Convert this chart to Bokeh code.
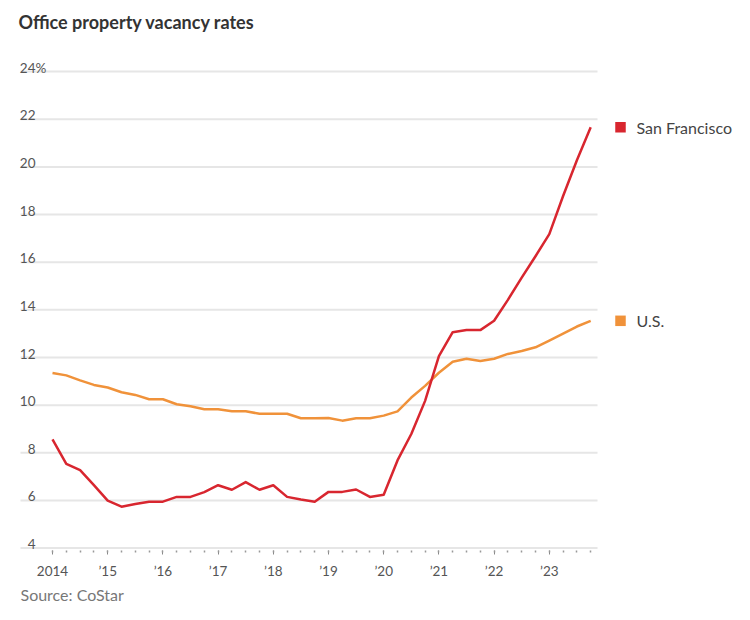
from bokeh.plotting import figure
from bokeh.models import FixedTicker, Range1d, Title
from bokeh.core.properties import value
from bokeh.embed import file_html
from bokeh.resources import INLINE

# ---------------- data ----------------
quarters = [
    "2014Q1", "2014Q2", "2014Q3", "2014Q4", "2015Q1", "2015Q2", "2015Q3", "2015Q4",
    "2016Q1", "2016Q2", "2016Q3", "2016Q4", "2017Q1", "2017Q2", "2017Q3", "2017Q4",
    "2018Q1", "2018Q2", "2018Q3", "2018Q4", "2019Q1", "2019Q2", "2019Q3", "2019Q4",
    "2020Q1", "2020Q2", "2020Q3", "2020Q4", "2021Q1", "2021Q2", "2021Q3", "2021Q4",
    "2022Q1", "2022Q2", "2022Q3", "2022Q4", "2023Q1", "2023Q2", "2023Q3", "2023Q4",
]
san_francisco = [
    8.56, 7.54, 7.27, 6.64, 5.99, 5.74, 5.85, 5.95,
    5.95, 6.15, 6.15, 6.35, 6.64, 6.45, 6.77, 6.45,
    6.64, 6.15, 6.04, 5.95, 6.36, 6.36, 6.46, 6.15,
    6.24, 7.68, 8.79, 10.18, 12.06, 13.06, 13.15, 13.15,
    13.54, 14.42, 15.35, 16.25, 17.18, 18.78, 20.28, 21.66,
]
us = [
    11.35, 11.25, 11.04, 10.85, 10.74, 10.54, 10.43, 10.25,
    10.25, 10.04, 9.95, 9.83, 9.83, 9.74, 9.74, 9.64,
    9.64, 9.64, 9.45, 9.45, 9.46, 9.35, 9.45, 9.45,
    9.56, 9.74, 10.32, 10.81, 11.36, 11.82, 11.95, 11.85,
    11.95, 12.15, 12.27, 12.43, 12.71, 13.0, 13.3, 13.54,
]
series_names = ["San Francisco", "U.S."]
series_colors = ["#d8262f", "#f0923a"]

y_ticks = [4, 6, 8, 10, 12, 14, 16, 18, 20, 22, 24]
y_labels = ["4", "6", "8", "10", "12", "14", "16", "18", "20", "22", "24"]
x_ticks = [2014, 2015, 2016, 2017, 2018, 2019, 2020, 2021, 2022, 2023]
x_labels = ["2014", "\u201915", "\u201916", "\u201917", "\u201918",
            "\u201919", "\u201920", "\u201921", "\u201922", "\u201923"]

title_text = "Office property vacancy rates"
source_text = "Source: CoStar"

# ---------------- layout ----------------
FONT = "Lato"
PX_X = 55.2     # pixels per year
PX_Y = 24.0     # pixels per percentage point
W, H = 734, 604
FRAME_H = 554
BOTTOM = H - FRAME_H
y_start = 3.9

x = [int(q[:4]) + (int(q[-1]) - 1) / 4 for q in quarters]

x0 = 2014 - 52 / PX_X
x_range = Range1d(x0, x0 + W / PX_X)
y_range = Range1d(y_start, y_start + FRAME_H / PX_Y)

p = figure(width=W, height=H, x_range=x_range, y_range=y_range,
           output_backend="svg", toolbar_location=None, y_axis_location=None,
           min_border_left=0, min_border_right=0, min_border_top=0,
           min_border_bottom=BOTTOM)
p.outline_line_color = None
p.xgrid.visible = False
p.ygrid.visible = False
p.background_fill_color = "white"
p.border_fill_color = "white"

# grid lines (limited to the plotting area, not the legend area)
grid_x0 = 2014 - 32 / PX_X
grid_x1 = 2014 + 545 / PX_X
p.segment(x0=[grid_x0] * len(y_ticks), x1=[grid_x1] * len(y_ticks),
          y0=y_ticks, y1=y_ticks, line_color="#e6e6e6", line_width=2)

# y tick labels sitting above the grid lines
p.text(x=[2014] * len(y_ticks), y=y_ticks, text=y_labels, x_offset=-17, y_offset=-4,
       text_align="right", text_baseline="alphabetic", text_font=value(FONT),
       text_font_size="13.5px", text_color="#555555")
p.text(x=[2014], y=[y_ticks[-1]], text=["%"], x_offset=-17, y_offset=-4,
       text_align="left", text_baseline="alphabetic", text_font=value(FONT),
       text_font_size="13.5px", text_color="#555555")

# lines
p.line(x, us, line_color=series_colors[1], line_width=2.5, line_join="round")
p.line(x, san_francisco, line_color=series_colors[0], line_width=2.5, line_join="round")

# legend at the line ends
last_vals = [san_francisco[-1], us[-1]]
leg_sq_x = 2014 + (620 - 52) / PX_X
leg_tx_x = 2014 + (636 - 52) / PX_X
p.scatter(x=[leg_sq_x] * 2, y=last_vals, marker="square", size=10.5,
          fill_color=series_colors, line_color=None)
p.text(x=[leg_tx_x] * 2, y=last_vals, text=series_names, text_align="left",
       text_baseline="middle", text_font=value(FONT), text_font_size="16px",
       text_color="#444444")

# title
title_y = y_start + (FRAME_H - 22) / PX_Y
p.text(x=[2014], y=[title_y], text=[title_text], x_offset=-34, text_align="left",
       text_baseline="middle", text_font=value(FONT), text_font_size="18px",
       text_font_style="bold", text_color="#333333")

# x axis
xa = p.xaxis[0]
xa.ticker = FixedTicker(ticks=x_ticks, minor_ticks=x)
xa.major_label_overrides = {t: l for t, l in zip(x_ticks, x_labels)}
xa.axis_line_color = None
xa.major_tick_in = 0
xa.major_tick_out = 4
xa.major_tick_line_color = "#888888"
xa.major_tick_line_width = 1
xa.minor_tick_in = 0
xa.minor_tick_out = 2
xa.minor_tick_line_color = "#999999"
xa.minor_tick_line_width = 1.5
xa.major_label_standoff = 8
xa.major_label_text_font = FONT
xa.major_label_text_font_size = "13.5px"
xa.major_label_text_color = "#555555"

src = Title(text=source_text, align="left", offset=20, standoff=2, text_font=FONT,
            text_font_size="16px", text_font_style="normal", text_color="#777777")
p.add_layout(src, "below")

open("out.html", "w").write(file_html(p, INLINE))
